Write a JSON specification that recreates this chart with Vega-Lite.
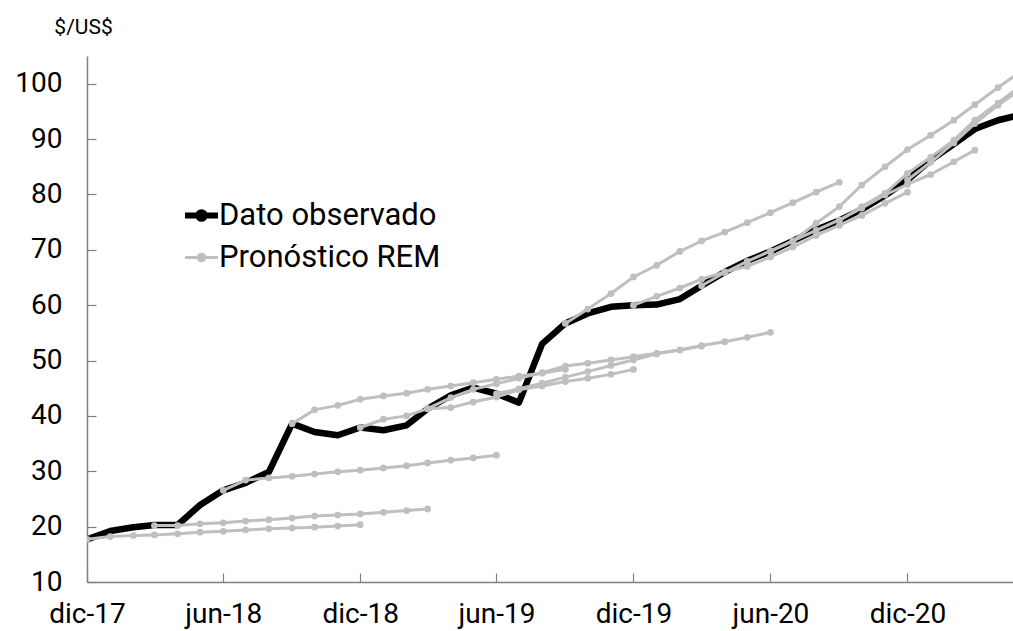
{
 "$schema": "https://vega.github.io/schema/vega-lite/v6.json",
 "width": 926, "height": 526,
 "autosize": "none",
 "padding": {"left": 87, "top": 56, "right": 0, "bottom": 49},
 "background": "white",
 "config": {"view": {"stroke": null}, "font": "Roboto"},
 "datasets": {
  "obs": [
   {"fecha":"2017-12-01","valor":17.7},{"fecha":"2018-01-01","valor":19.2},{"fecha":"2018-02-01","valor":19.9},{"fecha":"2018-03-01","valor":20.3},{"fecha":"2018-04-01","valor":20.3},{"fecha":"2018-05-01","valor":23.9},{"fecha":"2018-06-01","valor":26.55},{"fecha":"2018-07-01","valor":27.9},{"fecha":"2018-08-01","valor":29.9},{"fecha":"2018-09-01","valor":38.6},{"fecha":"2018-10-01","valor":37.1},{"fecha":"2018-11-01","valor":36.5},{"fecha":"2018-12-01","valor":37.9},{"fecha":"2019-01-01","valor":37.4},{"fecha":"2019-02-01","valor":38.3},{"fecha":"2019-03-01","valor":41.3},{"fecha":"2019-04-01","valor":43.7},{"fecha":"2019-05-01","valor":45.1},{"fecha":"2019-06-01","valor":44.0},{"fecha":"2019-07-01","valor":42.4},{"fecha":"2019-08-01","valor":53.0},{"fecha":"2019-09-01","valor":56.7},{"fecha":"2019-10-01","valor":58.5},{"fecha":"2019-11-01","valor":59.7},{"fecha":"2019-12-01","valor":60.0},{"fecha":"2020-01-01","valor":60.1},{"fecha":"2020-02-01","valor":61.1},{"fecha":"2020-03-01","valor":63.5},{"fecha":"2020-04-01","valor":66.0},{"fecha":"2020-05-01","valor":68.0},{"fecha":"2020-06-01","valor":69.7},{"fecha":"2020-07-01","valor":71.6},{"fecha":"2020-08-01","valor":73.6},{"fecha":"2020-09-01","valor":75.3},{"fecha":"2020-10-01","valor":77.3},{"fecha":"2020-11-01","valor":79.8},{"fecha":"2020-12-01","valor":82.6},{"fecha":"2021-01-01","valor":86.2},{"fecha":"2021-02-01","valor":89.1},{"fecha":"2021-03-01","valor":91.8},{"fecha":"2021-04-01","valor":93.4},{"fecha":"2021-05-01","valor":94.4}
  ],
  "rem": [
   {"serie":"dic-17","fecha":"2017-12-01","valor":17.7},{"serie":"dic-17","fecha":"2018-01-01","valor":18.2},{"serie":"dic-17","fecha":"2018-02-01","valor":18.4},{"serie":"dic-17","fecha":"2018-03-01","valor":18.5},{"serie":"dic-17","fecha":"2018-04-01","valor":18.7},{"serie":"dic-17","fecha":"2018-05-01","valor":19.0},{"serie":"dic-17","fecha":"2018-06-01","valor":19.15},{"serie":"dic-17","fecha":"2018-07-01","valor":19.4},{"serie":"dic-17","fecha":"2018-08-01","valor":19.6},{"serie":"dic-17","fecha":"2018-09-01","valor":19.75},{"serie":"dic-17","fecha":"2018-10-01","valor":19.9},{"serie":"dic-17","fecha":"2018-11-01","valor":20.1},{"serie":"dic-17","fecha":"2018-12-01","valor":20.35},
   {"serie":"mar-18","fecha":"2018-03-01","valor":20.2},{"serie":"mar-18","fecha":"2018-04-01","valor":20.2},{"serie":"mar-18","fecha":"2018-05-01","valor":20.5},{"serie":"mar-18","fecha":"2018-06-01","valor":20.7},{"serie":"mar-18","fecha":"2018-07-01","valor":21.0},{"serie":"mar-18","fecha":"2018-08-01","valor":21.25},{"serie":"mar-18","fecha":"2018-09-01","valor":21.55},{"serie":"mar-18","fecha":"2018-10-01","valor":21.9},{"serie":"mar-18","fecha":"2018-11-01","valor":22.1},{"serie":"mar-18","fecha":"2018-12-01","valor":22.3},{"serie":"mar-18","fecha":"2019-01-01","valor":22.6},{"serie":"mar-18","fecha":"2019-02-01","valor":22.9},{"serie":"mar-18","fecha":"2019-03-01","valor":23.2},
   {"serie":"jun-18","fecha":"2018-06-01","valor":26.55},{"serie":"jun-18","fecha":"2018-07-01","valor":28.4},{"serie":"jun-18","fecha":"2018-08-01","valor":28.8},{"serie":"jun-18","fecha":"2018-09-01","valor":29.1},{"serie":"jun-18","fecha":"2018-10-01","valor":29.5},{"serie":"jun-18","fecha":"2018-11-01","valor":29.9},{"serie":"jun-18","fecha":"2018-12-01","valor":30.2},{"serie":"jun-18","fecha":"2019-01-01","valor":30.6},{"serie":"jun-18","fecha":"2019-02-01","valor":31.0},{"serie":"jun-18","fecha":"2019-03-01","valor":31.5},{"serie":"jun-18","fecha":"2019-04-01","valor":32.0},{"serie":"jun-18","fecha":"2019-05-01","valor":32.4},{"serie":"jun-18","fecha":"2019-06-01","valor":32.9},
   {"serie":"sep-18","fecha":"2018-09-01","valor":38.6},{"serie":"sep-18","fecha":"2018-10-01","valor":41.1},{"serie":"sep-18","fecha":"2018-11-01","valor":41.9},{"serie":"sep-18","fecha":"2018-12-01","valor":43.0},{"serie":"sep-18","fecha":"2019-01-01","valor":43.6},{"serie":"sep-18","fecha":"2019-02-01","valor":44.1},{"serie":"sep-18","fecha":"2019-03-01","valor":44.8},{"serie":"sep-18","fecha":"2019-04-01","valor":45.4},{"serie":"sep-18","fecha":"2019-05-01","valor":46.0},{"serie":"sep-18","fecha":"2019-06-01","valor":46.6},{"serie":"sep-18","fecha":"2019-07-01","valor":47.2},{"serie":"sep-18","fecha":"2019-08-01","valor":47.7},{"serie":"sep-18","fecha":"2019-09-01","valor":48.4},
   {"serie":"dic-18","fecha":"2018-12-01","valor":37.9},{"serie":"dic-18","fecha":"2019-01-01","valor":39.4},{"serie":"dic-18","fecha":"2019-02-01","valor":40.0},{"serie":"dic-18","fecha":"2019-03-01","valor":41.3},{"serie":"dic-18","fecha":"2019-04-01","valor":41.5},{"serie":"dic-18","fecha":"2019-05-01","valor":42.5},{"serie":"dic-18","fecha":"2019-06-01","valor":43.4},{"serie":"dic-18","fecha":"2019-07-01","valor":44.7},{"serie":"dic-18","fecha":"2019-08-01","valor":45.4},{"serie":"dic-18","fecha":"2019-09-01","valor":46.2},{"serie":"dic-18","fecha":"2019-10-01","valor":46.8},{"serie":"dic-18","fecha":"2019-11-01","valor":47.5},{"serie":"dic-18","fecha":"2019-12-01","valor":48.4},
   {"serie":"mar-19","fecha":"2019-03-01","valor":41.3},{"serie":"mar-19","fecha":"2019-04-01","valor":43.3},{"serie":"mar-19","fecha":"2019-05-01","valor":44.8},{"serie":"mar-19","fecha":"2019-06-01","valor":45.8},{"serie":"mar-19","fecha":"2019-07-01","valor":46.8},{"serie":"mar-19","fecha":"2019-08-01","valor":47.8},{"serie":"mar-19","fecha":"2019-09-01","valor":49.0},{"serie":"mar-19","fecha":"2019-10-01","valor":49.5},{"serie":"mar-19","fecha":"2019-11-01","valor":50.1},{"serie":"mar-19","fecha":"2019-12-01","valor":50.7},{"serie":"mar-19","fecha":"2020-01-01","valor":51.3},{"serie":"mar-19","fecha":"2020-02-01","valor":51.9},{"serie":"mar-19","fecha":"2020-03-01","valor":52.6},
   {"serie":"jun-19","fecha":"2019-06-01","valor":44.0},{"serie":"jun-19","fecha":"2019-07-01","valor":44.9},{"serie":"jun-19","fecha":"2019-08-01","valor":45.9},{"serie":"jun-19","fecha":"2019-09-01","valor":47.0},{"serie":"jun-19","fecha":"2019-10-01","valor":48.0},{"serie":"jun-19","fecha":"2019-11-01","valor":49.1},{"serie":"jun-19","fecha":"2019-12-01","valor":50.1},{"serie":"jun-19","fecha":"2020-01-01","valor":51.2},{"serie":"jun-19","fecha":"2020-02-01","valor":51.9},{"serie":"jun-19","fecha":"2020-03-01","valor":52.7},{"serie":"jun-19","fecha":"2020-04-01","valor":53.4},{"serie":"jun-19","fecha":"2020-05-01","valor":54.2},{"serie":"jun-19","fecha":"2020-06-01","valor":55.1},
   {"serie":"sep-19","fecha":"2019-09-01","valor":56.7},{"serie":"sep-19","fecha":"2019-10-01","valor":59.3},{"serie":"sep-19","fecha":"2019-11-01","valor":62.1},{"serie":"sep-19","fecha":"2019-12-01","valor":65.1},{"serie":"sep-19","fecha":"2020-01-01","valor":67.2},{"serie":"sep-19","fecha":"2020-02-01","valor":69.7},{"serie":"sep-19","fecha":"2020-03-01","valor":71.6},{"serie":"sep-19","fecha":"2020-04-01","valor":73.2},{"serie":"sep-19","fecha":"2020-05-01","valor":74.9},{"serie":"sep-19","fecha":"2020-06-01","valor":76.7},{"serie":"sep-19","fecha":"2020-07-01","valor":78.5},{"serie":"sep-19","fecha":"2020-08-01","valor":80.4},{"serie":"sep-19","fecha":"2020-09-01","valor":82.2},
   {"serie":"dic-19","fecha":"2019-12-01","valor":60.0},{"serie":"dic-19","fecha":"2020-01-01","valor":61.6},{"serie":"dic-19","fecha":"2020-02-01","valor":63.1},{"serie":"dic-19","fecha":"2020-03-01","valor":64.7},{"serie":"dic-19","fecha":"2020-04-01","valor":66.0},{"serie":"dic-19","fecha":"2020-05-01","valor":67.0},{"serie":"dic-19","fecha":"2020-06-01","valor":68.7},{"serie":"dic-19","fecha":"2020-07-01","valor":70.5},{"serie":"dic-19","fecha":"2020-08-01","valor":72.6},{"serie":"dic-19","fecha":"2020-09-01","valor":74.4},{"serie":"dic-19","fecha":"2020-10-01","valor":76.2},{"serie":"dic-19","fecha":"2020-11-01","valor":78.4},{"serie":"dic-19","fecha":"2020-12-01","valor":80.4},
   {"serie":"mar-20","fecha":"2020-03-01","valor":63.5},{"serie":"mar-20","fecha":"2020-04-01","valor":65.9},{"serie":"mar-20","fecha":"2020-05-01","valor":67.9},{"serie":"mar-20","fecha":"2020-06-01","valor":69.8},{"serie":"mar-20","fecha":"2020-07-01","valor":71.6},{"serie":"mar-20","fecha":"2020-08-01","valor":73.5},{"serie":"mar-20","fecha":"2020-09-01","valor":75.4},{"serie":"mar-20","fecha":"2020-10-01","valor":77.5},{"serie":"mar-20","fecha":"2020-11-01","valor":79.9},{"serie":"mar-20","fecha":"2020-12-01","valor":81.8},{"serie":"mar-20","fecha":"2021-01-01","valor":83.6},{"serie":"mar-20","fecha":"2021-02-01","valor":85.9},{"serie":"mar-20","fecha":"2021-03-01","valor":88.0},
   {"serie":"jun-20","fecha":"2020-06-01","valor":69.7},{"serie":"jun-20","fecha":"2020-07-01","valor":71.6},{"serie":"jun-20","fecha":"2020-08-01","valor":74.8},{"serie":"jun-20","fecha":"2020-09-01","valor":77.8},{"serie":"jun-20","fecha":"2020-10-01","valor":81.7},{"serie":"jun-20","fecha":"2020-11-01","valor":85.0},{"serie":"jun-20","fecha":"2020-12-01","valor":88.1},{"serie":"jun-20","fecha":"2021-01-01","valor":90.7},{"serie":"jun-20","fecha":"2021-02-01","valor":93.4},{"serie":"jun-20","fecha":"2021-03-01","valor":96.2},{"serie":"jun-20","fecha":"2021-04-01","valor":99.3},{"serie":"jun-20","fecha":"2021-05-01","valor":102.2},
   {"serie":"sep-20","fecha":"2020-09-01","valor":75.3},{"serie":"sep-20","fecha":"2020-10-01","valor":77.8},{"serie":"sep-20","fecha":"2020-11-01","valor":80.2},{"serie":"sep-20","fecha":"2020-12-01","valor":83.8},{"serie":"sep-20","fecha":"2021-01-01","valor":86.7},{"serie":"sep-20","fecha":"2021-02-01","valor":89.8},{"serie":"sep-20","fecha":"2021-03-01","valor":93.4},{"serie":"sep-20","fecha":"2021-04-01","valor":96.5},{"serie":"sep-20","fecha":"2021-05-01","valor":99.6},
   {"serie":"dic-20","fecha":"2020-12-01","valor":82.6},{"serie":"dic-20","fecha":"2021-01-01","valor":85.8},{"serie":"dic-20","fecha":"2021-02-01","valor":89.3},{"serie":"dic-20","fecha":"2021-03-01","valor":92.8},{"serie":"dic-20","fecha":"2021-04-01","valor":96.1},{"serie":"dic-20","fecha":"2021-05-01","valor":99.0}
  ]
 },
 "encoding": {
  "x": {
   "field": "fecha", "type": "temporal",
   "scale": {"type": "utc", "domain": [{"year": 2017, "month": 12, "date": 1, "utc": true}, {"year": 2021, "month": 4, "date": 21, "utc": true}]},
   "axis": {
    "title": null, "grid": false,
    "values": [{"year": 2017, "month": 12, "date": 1, "utc": true}, {"year": 2018, "month": 6, "date": 1, "utc": true}, {"year": 2018, "month": 12, "date": 1, "utc": true}, {"year": 2019, "month": 6, "date": 1, "utc": true}, {"year": 2019, "month": 12, "date": 1, "utc": true}, {"year": 2020, "month": 6, "date": 1, "utc": true}, {"year": 2020, "month": 12, "date": 1, "utc": true}],
    "labelExpr": "(utcFormat(datum.value, '%m') == '12' ? 'dic' : 'jun') + '-' + utcFormat(datum.value, '%y')",
    "labelFont": "Roboto", "labelFontSize": 28, "labelColor": "#000000",
    "labelFlush": false, "labelOverlap": false, "labelPadding": 27,
    "tickSize": -9, "tickColor": "#808080", "tickWidth": 1.2,
    "domainColor": "#808080", "domainWidth": 1.5
   }
  },
  "y": {
   "field": "valor", "type": "quantitative",
   "scale": {"domain": [10, 105], "nice": false, "zero": false},
   "axis": {
    "values": [10, 20, 30, 40, 50, 60, 70, 80, 90, 100],
    "grid": false,
    "title": "$/US$", "titleAngle": 0, "titleX": -4, "titleY": -23, "titleAlign": "center", "titleBaseline": "alphabetic",
    "titleFont": "Roboto", "titleFontSize": 21, "titleFontWeight": "normal", "titleColor": "#000000",
    "labelFont": "Roboto", "labelFontSize": 28, "labelColor": "#000000", "labelPadding": 34,
    "labelFlush": false, "labelOverlap": false,
    "tickSize": -9, "tickColor": "#808080", "tickWidth": 1.2,
    "domainColor": "#808080", "domainWidth": 1.5
   }
  }
 },
 "layer": [
  {
   "data": {"name": "obs"},
   "transform": [{"calculate": "'Dato observado'", "as": "tipo"}],
   "mark": {"type": "line", "clip": true, "strokeWidth": 6.5, "strokeJoin": "round"},
   "encoding": {
    "color": {"field": "tipo", "type": "nominal",
     "scale": {"domain": ["Dato observado", "Pronóstico REM"], "range": ["#000000", "#bfbfbf"]},
     "legend": {
      "title": null, "orient": "none", "legendX": 99, "legendY": 144, "padding": 0,
      "symbolType": "M-1,0L1,0M-0.2,0A0.2,0.2,0,1,1,0.2,0A0.2,0.2,0,1,1,-0.2,0Z",
      "symbolSize": 1089, "symbolStrokeWidth": 4,
      "labelFont": "Roboto", "labelFontSize": 31, "labelColor": "#000000", "labelOffset": 2,
      "rowPadding": 10, "labelLimit": 400,
      "encode": {"symbols": {"update": {
        "strokeWidth": {"signal": "datum.value === 'Dato observado' ? 6 : 3"},
        "fill": {"signal": "datum.value === 'Dato observado' ? '#000000' : '#bfbfbf'"},
        "fillOpacity": {"value": 1}
      }}}
     }
    }
   }
  },
  {
   "data": {"name": "rem"},
   "transform": [{"calculate": "'Pronóstico REM'", "as": "tipo"}],
   "mark": {"type": "line", "clip": true, "strokeWidth": 3, "point": {"filled": true, "size": 45, "opacity": 1}},
   "encoding": {
    "color": {"field": "tipo", "type": "nominal"},
    "detail": {"field": "serie", "type": "nominal"}
   }
  }
 ]
}
